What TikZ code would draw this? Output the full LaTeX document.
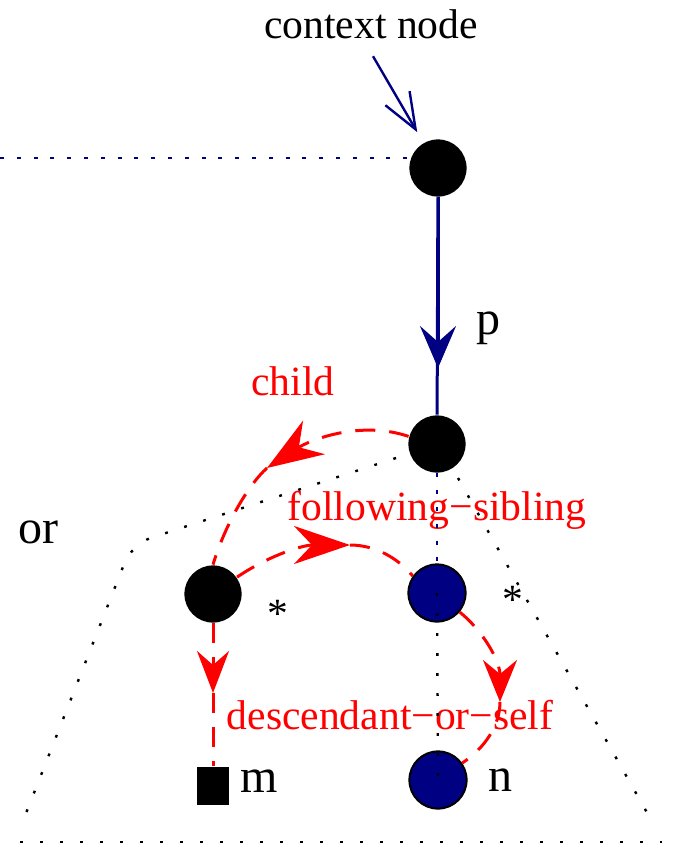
\documentclass[tikz,border=0pt]{standalone}
\usepackage{fontspec}
\setmainfont{Liberation Serif}
\usetikzlibrary{arrows.meta,calc,positioning}
\definecolor{AxisRed}{RGB}{255,0,0}
\definecolor{AxisNavy}{RGB}{0,0,130}

\begin{document}
\begin{tikzpicture}[x=.25pt,y=-.25pt,
  dot/.style={circle,fill=black,inner sep=0pt,minimum size=14.3pt},
  bluedot/.style={dot,fill=AxisNavy,draw=black,line width=.5pt},
  axis/.style={AxisRed,line width=.75pt,dash pattern=on 5pt off 3.5pt},
  navyline/.style={AxisNavy,line width=.75pt},
  navydots/.style={AxisNavy,line width=.6pt,dash pattern=on 1pt off 3.2pt},
  outline/.style={line width=.6pt,dash pattern=on .7pt off 4.3pt},
  lab/.style={font=\fontsize{10.4}{12}\selectfont},
  big/.style={font=\fontsize{12}{14}\selectfont}]
\useasboundingbox (0,0) rectangle (678,847);
\node[lab] (ctx) at (371,24){context node};
\node[dot] (top) at (438,168){};
\node[dot] (mid) at (437,444){};
\node[dot] (left) at (213,594){};
\node[bluedot] (sib) at (437,593){};
\node[bluedot] (nn) at (438,780){};
\node[fill,inner sep=0pt,minimum width=8pt,minimum height=9.5pt] (sq) at (213,786){};
\node[big] (plab) at (488,328){p};
\node[lab,AxisRed] (childlab) at (293,381){child};
\node[lab,AxisRed] (fslab) at (437,510){following−sibling};
\node[lab,AxisRed] (dslab) at (390,715){descendant−or−self};
\node[big] (orlab) at (38,532){or};
\node[big] (mlab) at (259,781){m};
\node[big] (nlab) at (500,780){n};
\node[lab] (st1) at (278,614){*};
\node[lab] (st2) at (513,600){*};
\draw[AxisNavy,line width=.6pt,-{Straight Barb[length=9pt,width=7pt]},shorten <=1pt,shorten >=3pt] (ctx.south) -- (top.120);
\coordinate (lend) at (0,158);
\draw[navydots] (lend) -- (lend -| top.west);
\coordinate (ptip) at (438,368);
\draw[navyline] (top) -- (mid);
\draw[navyline,-{Stealth[length=10.5pt,width=9pt,inset=4pt]}] (top) -- (ptip);
\draw[navydots] (mid) -- (sib);
\draw[outline] (sib.center) -- (nn.center);
\draw[outline,rounded corners=5pt] (396,458) -- (132,544) -- (21,826);
\draw[outline] (458,478) -- (654,825);
\draw[outline] (20,842) -- (662,842);
\coordinate (chtip) at (267,468);
\draw[axis,-{Stealth[length=14pt,width=10pt,inset=4.5pt]}] (mid.165) .. controls (360,420) and (310,440) .. (chtip);
\draw[axis] (chtip) .. controls (248,485) and (225,525) .. (left.north);
\coordinate (fstip) at (350,545);
\draw[axis,-{Stealth[length=14pt,width=9.5pt,inset=4.5pt]}] (left.35) .. controls (265,558) and (300,545) .. (fstip);
\draw[axis] (fstip) .. controls (375,545) and (398,558) .. (sib.145);
\coordinate (dstip) at (500,702);
\draw[axis,-{Stealth[length=10.5pt,width=8.5pt,inset=3.5pt]}] (sib.-40) .. controls (482,630) and (500,660) .. (dstip);
\draw[axis] (dstip) .. controls (500,725) and (485,748) .. (nn.35);
\coordinate (dltip) at (213,693);
\draw[axis,-{Stealth[length=10.5pt,width=8pt,inset=3.5pt]}] (left) -- (dltip);
\draw[axis] (dltip) -- (sq);
\end{tikzpicture}
\end{document}
